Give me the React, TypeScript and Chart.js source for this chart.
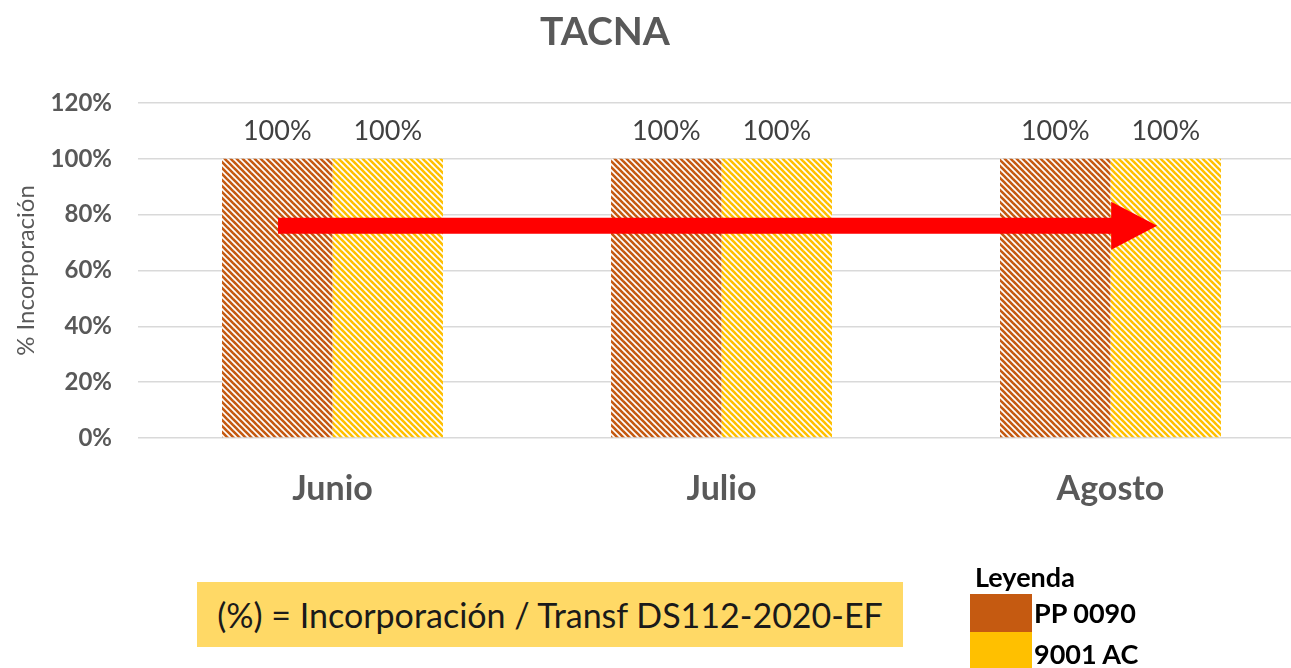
import React, { useEffect, useRef } from "react";
import { Chart, registerables } from "chart.js";

Chart.register(...registerables);

const TITLE = "TACNA";
const CATEGORIES = ["Junio", "Julio", "Agosto"];
const SERIES_NAMES = ["PP 0090", "9001 AC"];
const PP_0090 = [1, 1, 1];
const AC_9001 = [1, 1, 1];
const Y_MIN = 0;
const Y_MAX = 1.2;
const Y_STEP = 0.2;
const Y_TITLE = "% Incorporación";
const NOTE = "(%) = Incorporación / Transf DS112-2020-EF";
const LEGEND_TITLE = "Leyenda";
// trend arrow annotation, in data units (category index, y value)
const ARROW_FROM = -0.14;
const ARROW_TO = 2.12;
const ARROW_Y = 0.76;

const FONT = "Lato, 'Open Sans', sans-serif";
const ORANGE = "#C55A11";
const YELLOW = "#FFC000";

function makePattern(color: string): CanvasPattern | string {
  const s = 6;
  const c = document.createElement("canvas");
  c.width = s;
  c.height = s;
  const g = c.getContext("2d");
  if (!g) return color;
  g.fillStyle = "#ffffff";
  g.fillRect(0, 0, s, s);
  g.strokeStyle = color;
  g.lineWidth = 2.6;
  for (const k of [-s, 0, s]) {
    g.beginPath();
    g.moveTo(k - 1, -1);
    g.lineTo(k + s + 1, s + 1);
    g.stroke();
  }
  const p = g.createPattern(c, "repeat");
  return p || color;
}

const labelsPlugin = {
  id: "barLabels",
  afterDatasetsDraw(chart: any) {
    const ctx = chart.ctx;
    ctx.save();
    ctx.font = `27px ${FONT}`;
    ctx.fillStyle = "#404040";
    ctx.textAlign = "center";
    ctx.textBaseline = "middle";
    chart.data.datasets.forEach((ds: any, di: number) => {
      const meta = chart.getDatasetMeta(di);
      meta.data.forEach((bar: any, i: number) => {
        const v = ds.data[i];
        ctx.fillText(`${Math.round(v * 100)}%`, bar.x, bar.y - 28);
      });
    });
    ctx.restore();
  },
};

const arrowPlugin = {
  id: "trendArrow",
  afterDatasetsDraw(chart: any) {
    const x = chart.scales.x;
    const y = chart.scales.y;
    const x0 = x.getPixelForValue(ARROW_FROM);
    const x1 = x.getPixelForValue(ARROW_TO);
    const yc = y.getPixelForValue(ARROW_Y);
    const shaft = 8;
    const head = 24;
    const headLen = 46;
    const ctx = chart.ctx;
    ctx.save();
    ctx.fillStyle = "#FF0000";
    ctx.beginPath();
    ctx.moveTo(x0, yc - shaft);
    ctx.lineTo(x1 - headLen, yc - shaft);
    ctx.lineTo(x1 - headLen, yc - head);
    ctx.lineTo(x1, yc);
    ctx.lineTo(x1 - headLen, yc + head);
    ctx.lineTo(x1 - headLen, yc + shaft);
    ctx.lineTo(x0, yc + shaft);
    ctx.closePath();
    ctx.fill();
    ctx.restore();
  },
};

export default function App() {
  const ref = useRef<HTMLCanvasElement>(null);

  useEffect(() => {
    if (!ref.current) return;
    const chart = new Chart(ref.current, {
      type: "bar",
      data: {
        labels: CATEGORIES,
        datasets: [
          {
            label: SERIES_NAMES[0],
            data: PP_0090,
            backgroundColor: makePattern(ORANGE) as any,
            borderWidth: 0,
            categoryPercentage: 0.568,
            barPercentage: 1,
          },
          {
            label: SERIES_NAMES[1],
            data: AC_9001,
            backgroundColor: makePattern(YELLOW) as any,
            borderWidth: 0,
            categoryPercentage: 0.568,
            barPercentage: 1,
          },
        ],
      },
      options: {
        responsive: false,
        animation: false,
        layout: { padding: { top: 103, right: 5, bottom: 0, left: 0 } },
        plugins: {
          legend: { display: false },
          tooltip: { enabled: false },
          title: { display: false },
        },
        scales: {
          x: {
            grid: { display: false },
            border: { display: false },
            ticks: {
              color: "#595959",
              font: { family: FONT, size: 34, weight: "bold" },
              padding: 23,
            },
            afterFit: (s: any) => {
              s.height = 230;
            },
          },
          y: {
            min: Y_MIN,
            max: Y_MAX,
            border: { display: false },
            grid: { color: "#d9d9d9", lineWidth: 1.5, drawTicks: false },
            ticks: {
              stepSize: Y_STEP,
              color: "#595959",
              padding: 26,
              font: { family: FONT, size: 24, weight: "bold" },
              callback: (v: any) => `${Math.round(Number(v) * 100)}%`,
            },
            title: {
              display: true,
              text: Y_TITLE,
              color: "#595959",
              font: { family: FONT, size: 24 },
              padding: { top: 12, bottom: 0 },
            },
            afterFit: (s: any) => {
              s.width = 138;
            },
          },
        },
      },
      plugins: [arrowPlugin, labelsPlugin],
    });
    return () => chart.destroy();
  }, []);

  const legendText: React.CSSProperties = {
    position: "absolute",
    left: 1034,
    fontSize: 27,
    fontWeight: "bold",
    color: "#000",
    lineHeight: "30px",
    whiteSpace: "nowrap",
  };

  return (
    <div
      style={{
        position: "fixed",
        left: 0,
        top: 0,
        width: 1291,
        height: 668,
        overflow: "hidden",
        background: "#ffffff",
        fontFamily: FONT,
      }}
    >
      <canvas ref={ref} width={1310} height={668} style={{ width: 1310, height: 668, display: "block" }} />
      <div
        style={{
          position: "absolute",
          left: 405,
          width: 400,
          top: 6,
          textAlign: "center",
          fontSize: 39,
          fontWeight: "bold",
          color: "#595959",
          lineHeight: "48px",
        }}
      >
        {TITLE}
      </div>
      <div
        style={{
          position: "absolute",
          left: 197,
          top: 582,
          width: 706,
          height: 65,
          background: "#FFD966",
          display: "flex",
          alignItems: "center",
          justifyContent: "center",
          fontSize: 34,
          color: "#1a1a1a",
          whiteSpace: "nowrap",
        }}
      >
        {NOTE}
      </div>
      <div style={{ ...legendText, left: 975, top: 562 }}>{LEGEND_TITLE}</div>
      <div style={{ position: "absolute", left: 970, top: 594, width: 62, height: 38, background: ORANGE }} />
      <div style={{ position: "absolute", left: 970, top: 632, width: 62, height: 36, background: YELLOW }} />
      <div style={{ ...legendText, top: 598 }}>{SERIES_NAMES[0]}</div>
      <div style={{ ...legendText, top: 639 }}>{SERIES_NAMES[1]}</div>
    </div>
  );
}
